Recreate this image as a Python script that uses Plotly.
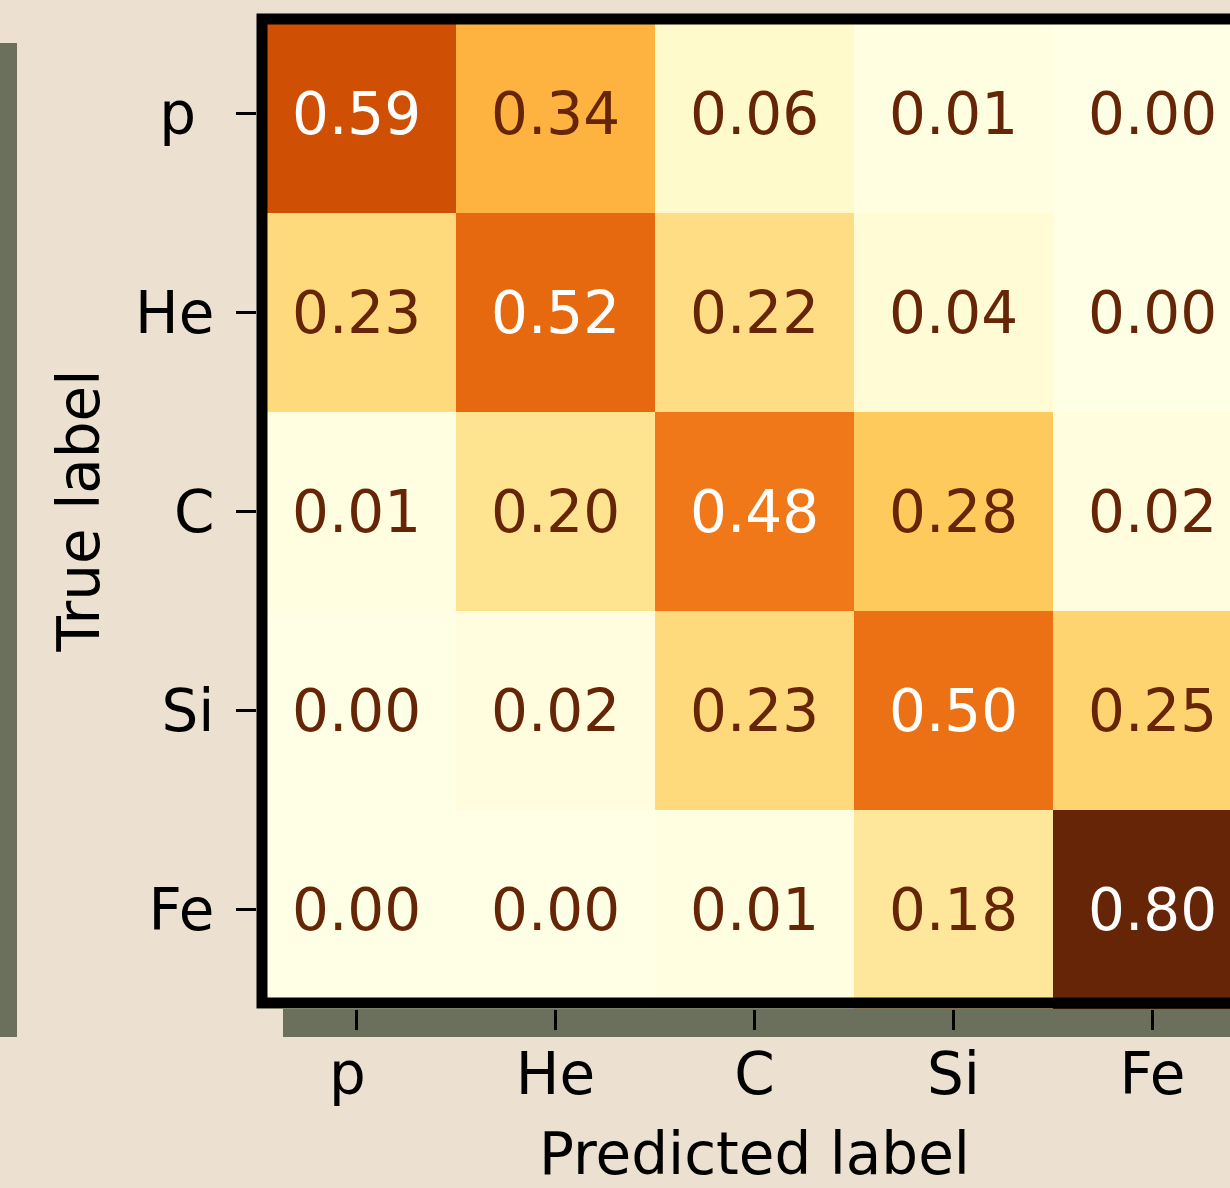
import plotly.graph_objects as go

# Confusion matrix: rows = true class, columns = predicted class
classes = ["p", "He", "C", "Si", "Fe"]
tick_text = ["p\u00a0", "He", "C", "Si", "Fe"]
cm = [
    [0.59, 0.34, 0.06, 0.01, 0.00],
    [0.23, 0.52, 0.22, 0.04, 0.00],
    [0.01, 0.20, 0.48, 0.28, 0.02],
    [0.00, 0.02, 0.23, 0.50, 0.25],
    [0.00, 0.00, 0.01, 0.18, 0.80],
]

W, H = 1230, 1188
FONT = "DejaVu Sans"
FS = 58
BG = "#ece0d0"
SHADOW = "#6b705c"
DARK_TEXT = "#662506"

# plot area in pixels (each cell is 199 px); the matrix runs past the right edge
left_px, top_px, cell_px = 257, 14, 199
bottom_px = top_px + 5 * cell_px


def px_x(v):
    return v / W


def px_y(v):
    return 1 - v / H


idx = list(range(len(classes)))

fig = go.Figure(
    go.Heatmap(
        z=cm,
        x=idx,
        y=idx,
        colorscale="YlOrBr",
        zmin=0,
        zmax=0.80,
        showscale=False,
        xgap=0,
        ygap=0,
        hoverinfo="skip",
    )
)

# value labels in each cell
for i, row in enumerate(cm):
    for j, v in enumerate(row):
        fig.add_annotation(
            x=j, y=i, xref="x", yref="y",
            text=f"{v:.2f}",
            showarrow=False,
            font=dict(family=FONT, size=FS, color="white" if v > 0.4 else DARK_TEXT),
        )

# axis titles
fig.add_annotation(
    x=2, y=px_y(1154), xref="x", yref="paper",
    text="Predicted label", showarrow=False,
    font=dict(family=FONT, size=FS, color="black"),
    xanchor="center", yanchor="middle",
)
fig.add_annotation(
    x=px_x(78), y=2, xref="paper", yref="y",
    text="True label", showarrow=False, textangle=-90,
    font=dict(family=FONT, size=FS, color="black"),
    xanchor="center", yanchor="middle",
)

x_end = (W - left_px) / cell_px - 0.5

fig.update_layout(
    width=W, height=H, autosize=False,
    margin=dict(l=0, r=0, t=0, b=0, pad=0),
    paper_bgcolor=BG,
    plot_bgcolor="rgba(0,0,0,0)",
    font=dict(family=FONT, size=FS, color="black"),
    xaxis=dict(
        domain=[px_x(left_px), 1],
        range=[-0.5, x_end],
        tickmode="array", tickvals=idx, ticktext=tick_text,
        ticks="outside", ticklen=20, tickwidth=2.5, tickcolor="black",
        showgrid=False, zeroline=False, showline=False,
        tickfont=dict(family=FONT, size=FS, color="black"),
        ticklabelstandoff=-6,
    ),
    yaxis=dict(
        domain=[px_y(bottom_px), px_y(top_px)],
        range=[4.5, -0.5],
        tickmode="array", tickvals=idx, ticktext=tick_text,
        ticks="outside", ticklen=20, tickwidth=2.5, tickcolor="black",
        showgrid=False, zeroline=False, showline=False,
        tickfont=dict(family=FONT, size=FS, color="black"),
        ticklabelstandoff=10,
    ),
    shapes=[
        # shadow bars behind the panels
        dict(type="rect", xref="paper", yref="paper", layer="below",
             x0=px_x(0), x1=px_x(17), y0=px_y(1037), y1=px_y(43),
             fillcolor=SHADOW, line=dict(width=0)),
        dict(type="rect", xref="paper", yref="paper", layer="below",
             x0=px_x(283), x1=1.05, y0=px_y(1037), y1=px_y(bottom_px),
             fillcolor=SHADOW, line=dict(width=0)),
        # heavy frame round the matrix
        dict(type="rect", xref="paper", yref="paper", layer="above",
             x0=px_x(left_px + 5), x1=1.05,
             y0=px_y(bottom_px - 6), y1=px_y(top_px + 5),
             fillcolor="rgba(0,0,0,0)", line=dict(color="black", width=11)),
    ],
)

fig.write_html("out.html")
